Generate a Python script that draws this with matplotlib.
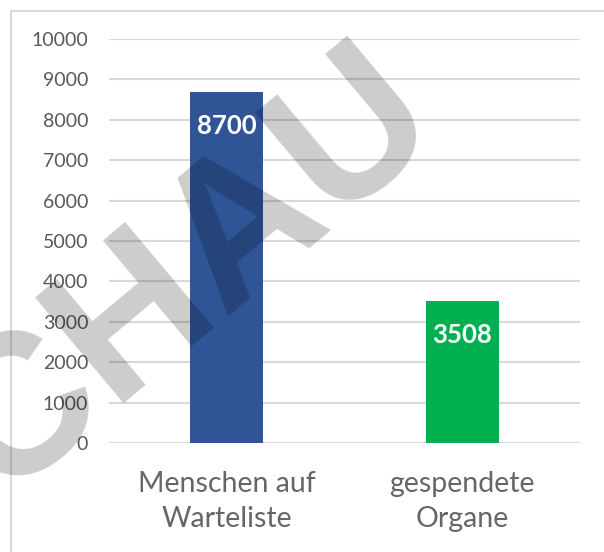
import matplotlib

matplotlib.use("Agg")
import matplotlib.pyplot as plt
from matplotlib.patches import Rectangle

categories = ["Menschen auf\nWarteliste", "gespendete\nOrgane"]
values = [8700, 3508]
bar_colors = ["#2f5597", "#00b050"]
y_ticks = [0, 1000, 2000, 3000, 4000, 5000, 6000, 7000, 8000, 9000, 10000]

W, H = 604, 552
plt.rcParams["font.family"] = ["Lato", "DejaVu Sans"]
fig = plt.figure(figsize=(W / 100, H / 100), dpi=100)

# plot area in pixels: x 109..580, y 39..443
ax = fig.add_axes([109 / W, 1 - 443 / H, (580 - 109) / W, (443 - 39) / H])
x = range(len(categories))
ax.bar(x, values, width=0.31, color=bar_colors, zorder=2)
ax.set_xlim(-0.5, 1.5)
ax.set_ylim(0, 10000)
ax.set_yticks(y_ticks)
ax.set_yticklabels([str(v) for v in y_ticks], fontsize=14, color="#595959")
ax.set_xticks(list(x))
ax.set_xticklabels(categories, fontsize=20.5, color="#666666", linespacing=1.45)
ax.tick_params(length=0)
ax.tick_params(axis="y", pad=15)
ax.tick_params(axis="x", pad=20)
ax.grid(axis="y", color="#d9d9d9", linewidth=1.5, zorder=0)
for s in ax.spines.values():
    s.set_visible(False)

# value labels inside the bar tops
for xi, v in zip(x, values):
    ax.annotate(str(v), (xi, v), xytext=(0, -34), textcoords="offset pixels",
                ha="center", va="center", color="white", fontsize=18.5, fontweight="bold", zorder=3)

# chart frame
fig.patches.append(Rectangle((11 / W, -0.1), 1.2, 1 - 11 / H + 0.1, transform=fig.transFigure,
                             fill=False, edgecolor="#d9d9d9", linewidth=1.5))

# watermark (anchor = middle of the baseline)
fig.text(172 / W, 1 - 358 / H, "SCHAU", fontsize=144, fontweight="bold", color="black", alpha=0.2,
         rotation=40, rotation_mode="anchor", ha="center", va="baseline",
         family=["Liberation Sans", "DejaVu Sans"], zorder=10)

fig.savefig("out.png", dpi=100)
